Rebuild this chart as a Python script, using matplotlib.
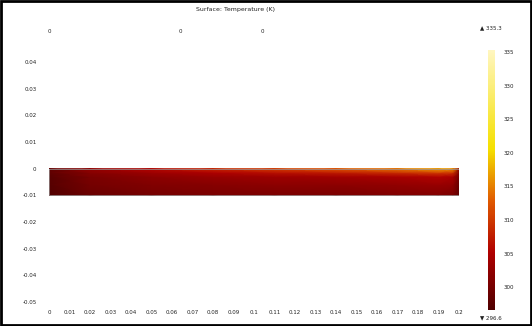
import matplotlib.pyplot as plt
import matplotlib.colors as mcolors
import numpy as np

# domain sample points (m) and temperature values (K)
x_pts = [0, 0.02, 0.05, 0.08, 0.11, 0.14, 0.17, 0.19, 0.197, 0.2]
y_pts = [-0.01, -0.006, -0.003, -0.0015, 0]
temp = [
    [297.0, 299.0, 300.0, 300.5, 300.5, 300.5, 301.0, 301.0, 300.5, 298.0],
    [297.3, 300.0, 301.0, 301.5, 302.0, 302.0, 302.5, 303.0, 302.5, 298.5],
    [297.5, 300.5, 302.0, 303.0, 303.5, 304.0, 304.5, 305.5, 304.5, 299.5],
    [298.0, 301.5, 303.5, 305.0, 306.5, 307.5, 309.0, 310.5, 309.5, 300.5],
    [298.0, 302.5, 305.5, 308.5, 310.5, 312.5, 314.5, 317.0, 316.0, 302.0],
]
t_min = 296.6
t_max = 335.3
cbar_ticks = [300, 305, 310, 315, 320, 325, 330, 335]
x_ticks = [round(0.01 * i, 2) for i in range(21)]
y_ticks = [0.04, 0.03, 0.02, 0.01, 0, -0.01, -0.02, -0.03, -0.04, -0.05]
top_ticks = [0, 0.064, 0.104]

# thermal-like colour scale: dark red -> red -> orange -> yellow -> pale
cmap = mcolors.LinearSegmentedColormap.from_list(
    "thermal",
    [(0.0, "#4f0000"), (0.22, "#b00000"), (0.42, "#e05a00"),
     (0.62, "#f5e000"), (1.0, "#fff6c0")])

fig = plt.figure(figsize=(5.32, 3.26), dpi=100)
ax = fig.add_axes([49 / 532, 1 - 302 / 326, 410 / 532, 240 / 326])

X, Y = np.meshgrid(x_pts, y_pts)
mesh = ax.pcolormesh(X, Y, np.array(temp), cmap=cmap, vmin=t_min, vmax=t_max,
                     shading="gouraud")
ax.plot([0, 0.2, 0.2, 0, 0], [0, 0, -0.01, -0.01, 0], color="#999999", lw=0.5)

ax.set_xlim(0, 0.2)
ax.set_ylim(-0.05, 0.04)
ax.set_xticks(x_ticks)
ax.set_xticklabels([f"{v:g}" for v in x_ticks])
ax.set_yticks(y_ticks)
ax.set_yticklabels([f"{v:g}" for v in y_ticks])
ax.tick_params(length=0, labelsize=4, pad=9, colors="#222222")
ax.tick_params(axis="x", pad=6)
for s in ax.spines.values():
    s.set_visible(False)

top = ax.secondary_xaxis("top")
top.set_xticks(top_ticks)
top.set_xticklabels(["0", "0", "0"])
top.tick_params(length=0, labelsize=4, pad=20, colors="#222222")
for s in top.spines.values():
    s.set_visible(False)

fig.text(235 / 532, 1 - 10 / 326, "Surface: Temperature (K)", ha="center",
         va="center", fontsize=4.5, color="#222222")

cax = fig.add_axes([488 / 532, 1 - 310 / 326, 7 / 532, 260 / 326])
cb = fig.colorbar(mesh, cax=cax, ticks=cbar_ticks)
cb.outline.set_visible(False)
cax.tick_params(length=0, labelsize=4, pad=6, colors="#222222")
fig.text(491 / 532, 1 - 28 / 326, f"\u25b2 {t_max:g}", ha="center",
         va="center", fontsize=4, color="#222222")
fig.text(491 / 532, 1 - 318 / 326, f"\u25bc {t_min:g}", ha="center",
         va="center", fontsize=4, color="#222222")

# black frame round the whole picture
fig.patches.append(plt.Rectangle((0.002, 0.003), 0.996, 0.994,
                                 transform=fig.transFigure, fill=False,
                                 edgecolor="black", lw=2))

fig.savefig("out.png", dpi=100)
